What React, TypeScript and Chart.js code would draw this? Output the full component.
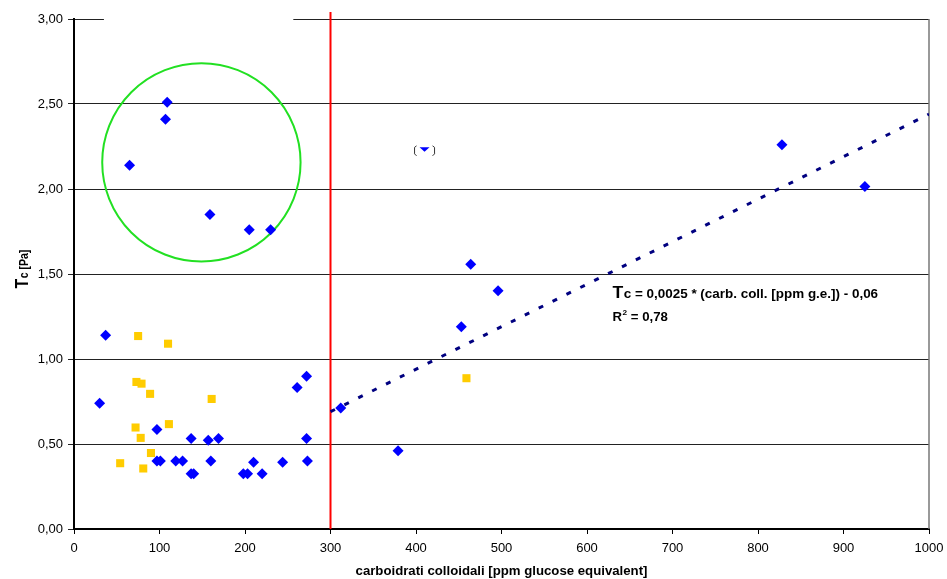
import React, { useEffect, useRef } from 'react';
import { Chart, registerables } from 'chart.js';

Chart.register(...registerables);

// ---- data ----
const blueX = [65, 109, 107, 159, 205, 230, 37, 30, 97, 97, 101, 119, 127, 137, 137, 140, 157, 169, 160, 198, 203, 210, 220, 244, 261, 272, 272, 273, 312, 379, 453, 464, 496, 828, 925];
const blueY = [2.14, 2.51, 2.41, 1.85, 1.76, 1.76, 1.14, 0.74, 0.585, 0.40, 0.40, 0.40, 0.40, 0.533, 0.325, 0.325, 0.522, 0.533, 0.40, 0.325, 0.325, 0.393, 0.325, 0.393, 0.832, 0.898, 0.533, 0.40, 0.712, 0.46, 1.19, 1.558, 1.402, 2.261, 2.014];

const yellowX = [75, 110, 73, 79, 89, 161, 72, 111, 78, 90, 54, 81, 459];
const yellowY = [1.135, 1.09, 0.865, 0.855, 0.795, 0.765, 0.597, 0.617, 0.536, 0.447, 0.387, 0.356, 0.887];

// partially hidden point
const hiddenX = [410];
const hiddenY = [2.245];

// trend line (y = 0.0025x - 0.06) end points
const trendX = [300, 1000];
const trendY = [0.69, 2.44];

// vertical limit line
const limitX = 300;

// highlighted group (circle): centre and radius in x units
const circleX = 149;
const circleY = 2.157;
const circleRX = 116;

const xMin = 0, xMax = 1000, xStep = 100;
const yMin = 0, yMax = 3, yStep = 0.5;

const xTitle = 'carboidrati colloidali [ppm glucose equivalent]';
const yTitleBig = 'T';
const yTitleSmall = 'c [Pa]';
const eqBig = 'T';
const eqSmall = 'c = 0,0025 * (carb. coll. [ppm g.e.]) - 0,06';
const r2Text = ' = 0,78';

const FONT = '"Liberation Sans", Arial, sans-serif';

function stretchText(ctx: CanvasRenderingContext2D, text: string, x: number, y: number, font: string, align: CanvasTextAlign = 'left', sx = 1.1) {
  ctx.save();
  ctx.font = font;
  ctx.textAlign = align;
  ctx.textBaseline = 'alphabetic';
  ctx.translate(x, y);
  ctx.scale(sx, 1);
  ctx.fillText(text, 0, 0);
  const w = ctx.measureText(text).width * sx;
  ctx.restore();
  return w;
}

const decor = {
  id: 'decor',
  beforeDatasetsDraw(chart: any) {
    const { ctx, chartArea, scales } = chart;
    const x = scales.x, y = scales.y;
    ctx.save();
    // gap in top gridline
    ctx.fillStyle = '#ffffff';
    ctx.fillRect(x.getPixelForValue(35), chartArea.top - 2, x.getPixelForValue(256.5) - x.getPixelForValue(35), 4);
    // red vertical line
    const px = x.getPixelForValue(limitX);
    ctx.strokeStyle = '#ff0000';
    ctx.lineWidth = 2;
    ctx.beginPath();
    ctx.moveTo(px, chartArea.top - 7);
    ctx.lineTo(px, chartArea.bottom);
    ctx.stroke();
    // green circle
    const cx = x.getPixelForValue(circleX);
    const cy = y.getPixelForValue(circleY);
    const r = x.getPixelForValue(circleX + circleRX) - cx;
    ctx.strokeStyle = '#22e022';
    ctx.lineWidth = 2;
    ctx.beginPath();
    ctx.arc(cx, cy, r, 0, Math.PI * 2);
    ctx.stroke();
    // right border
    ctx.strokeStyle = '#777777';
    ctx.lineWidth = 1.5;
    ctx.beginPath();
    ctx.moveTo(chartArea.right, chartArea.top);
    ctx.lineTo(chartArea.right, chartArea.bottom);
    ctx.stroke();
    ctx.restore();
  },
  afterDraw(chart: any) {
    const { ctx, scales } = chart;
    const x = scales.x, y = scales.y;
    ctx.save();
    // partially hidden point with brackets
    for (let i = 0; i < hiddenX.length; i++) {
      const cx = x.getPixelForValue(hiddenX[i]);
      const cy = y.getPixelForValue(hiddenY[i]);
      ctx.fillStyle = '#0000ff';
      ctx.beginPath();
      ctx.moveTo(cx - 5, cy);
      ctx.lineTo(cx + 5, cy);
      ctx.lineTo(cx, cy + 4.5);
      ctx.closePath();
      ctx.fill();
      ctx.strokeStyle = '#333';
      ctx.lineWidth = 1;
      ctx.beginPath();
      ctx.moveTo(cx - 8, cy - 1.5);
      ctx.lineTo(cx - 10, cy);
      ctx.lineTo(cx - 10, cy + 6.5);
      ctx.lineTo(cx - 8, cy + 8.5);
      ctx.moveTo(cx + 8, cy - 1.5);
      ctx.lineTo(cx + 10, cy);
      ctx.lineTo(cx + 10, cy + 6.5);
      ctx.lineTo(cx + 8, cy + 8.5);
      ctx.stroke();
    }
    ctx.fillStyle = '#000';
    // equation
    const ex = 612.5, ey = 298;
    const wT = stretchText(ctx, eqBig, ex, ey, `bold 16px ${FONT}`);
    stretchText(ctx, eqSmall, ex + wT + 0.5, ey, `bold 12px ${FONT}`, 'left', 1.12);
    const ry = 320.5;
    const wR = stretchText(ctx, 'R', ex, ry, `bold 12px ${FONT}`);
    const w2 = stretchText(ctx, '2', ex + wR + 0.5, ry - 5.5, `bold 7.5px ${FONT}`);
    stretchText(ctx, r2Text, ex + wR + w2 + 0.5, ry, `bold 12px ${FONT}`);
    // x title
    stretchText(ctx, xTitle, (chart.chartArea.left + chart.chartArea.right) / 2, 575, `bold 12px ${FONT}`, 'center');
    // y title
    ctx.save();
    ctx.translate(27.5, 288.5);
    ctx.rotate(-Math.PI / 2);
    ctx.scale(1, 1.2);
    ctx.textBaseline = 'alphabetic';
    ctx.textAlign = 'left';
    ctx.font = `bold 16px ${FONT}`;
    ctx.fillText(yTitleBig, 0, 0);
    const wy = ctx.measureText(yTitleBig).width;
    ctx.font = `bold 10.5px ${FONT}`;
    ctx.fillText(yTitleSmall, wy + 0.5, 0);
    ctx.restore();
    ctx.restore();
  },
};

export default function App() {
  const ref = useRef<HTMLCanvasElement>(null);
  useEffect(() => {
    if (!ref.current) return;
    Chart.defaults.font.family = FONT;
    const chart = new Chart(ref.current, {
      type: 'scatter',
      data: {
        datasets: [
          {
            label: 'blue',
            data: blueX.map((v, i) => ({ x: v, y: blueY[i] })),
            pointStyle: 'rectRot',
            pointRadius: 5.5,
            backgroundColor: '#0000ff',
            borderColor: '#0000ff',
            borderWidth: 0,
            order: 1,
          },
          {
            label: 'yellow',
            data: yellowX.map((v, i) => ({ x: v, y: yellowY[i] })),
            pointStyle: 'rect',
            pointRadius: 5.7,
            backgroundColor: '#ffcc00',
            borderColor: '#ffcc00',
            borderWidth: 0,
            order: 2,
          },
          {
            type: 'line',
            label: 'trend',
            data: trendX.map((v, i) => ({ x: v, y: trendY[i] })),
            borderColor: '#000080',
            borderWidth: 3,
            borderDash: [5, 10.5],
            pointRadius: 0,
            fill: false,
            order: 3,
          } as any,
        ],
      },
      options: {
        animation: false,
        responsive: false,
        layout: { padding: { top: 19, right: 18, left: 0, bottom: 0 } },
        plugins: { legend: { display: false }, tooltip: { enabled: false } },
        scales: {
          x: {
            type: 'linear',
            min: xMin,
            max: xMax,
            ticks: {
              stepSize: xStep,
              color: '#000',
              font: { size: 13, family: FONT },
              padding: 7,
              maxRotation: 0,
              callback: (v: any) => String(v),
            },
            grid: { drawOnChartArea: false, drawTicks: true, tickLength: 5, color: '#000' },
            border: { color: '#000', width: 2 },
            afterFit: (s: any) => { s.height = 50; s.paddingRight = 0; s.paddingLeft = 0; },
          },
          y: {
            min: yMin,
            max: yMax,
            ticks: {
              stepSize: yStep,
              color: '#000',
              font: { size: 13, family: FONT },
              padding: 5,
              callback: (v: any) => Number(v).toFixed(2).replace('.', ','),
            },
            grid: { color: '#222', lineWidth: 1, drawTicks: true, tickLength: 6 },
            border: { color: '#000', width: 2 },
            afterFit: (s: any) => { s.width = 74; s.paddingTop = 0; s.paddingBottom = 0; },
          },
        },
      },
      plugins: [decor],
    });
    return () => chart.destroy();
  }, []);
  return (
    <canvas
      ref={ref}
      width={947}
      height={579}
      style={{ position: 'absolute', left: 0, top: 0, width: 947, height: 579, display: 'block' }}
    />
  );
}
